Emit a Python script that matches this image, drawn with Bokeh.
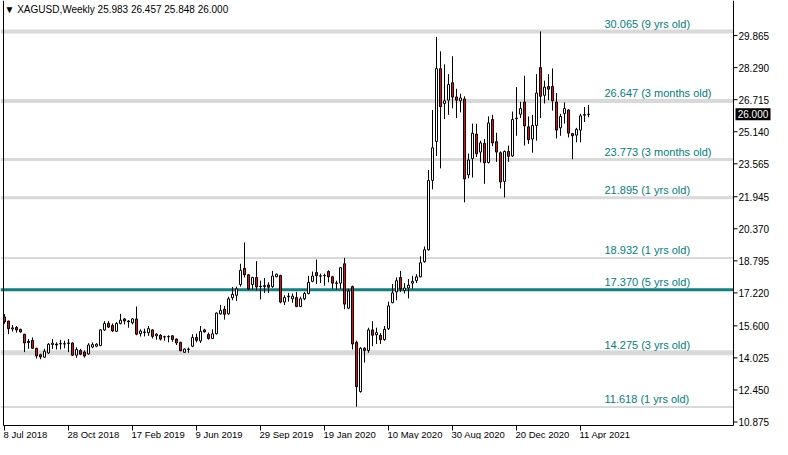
import math
from bokeh.plotting import figure
from bokeh.models import Range1d, Label, ColumnDataSource
from bokeh.core.properties import value
from bokeh.embed import file_html
from bokeh.resources import INLINE

# ---------------- data (XAGUSD weekly, bar index 0 = week of 8 Jul 2018) ----------------
opens = [
    16.04, 15.83, 15.45, 15.52, 15.43, 15.19, 14.84, 14.89, 14.50, 14.18,
    14.06, 14.27, 14.68, 14.70, 14.71, 14.72, 14.74, 14.76, 14.16, 14.39,
    14.31, 14.22, 14.56, 14.60, 14.63, 15.40, 15.72, 15.62, 15.33, 15.72,
    15.94, 15.84, 15.75, 15.94, 15.22, 15.30, 15.26, 15.40, 15.11, 15.14,
    15.05, 15.06, 15.11, 14.95, 14.79, 14.30, 14.44, 14.60, 15.03, 14.86,
    15.40, 15.18, 14.98, 15.21, 16.19, 16.42, 16.19, 16.98, 17.10, 17.63,
    18.43, 18.11, 17.63, 17.98, 17.55, 17.53, 17.61, 17.53, 18.02, 18.08,
    16.77, 17.03, 16.93, 16.99, 16.55, 16.93, 17.19, 17.79, 18.22, 18.04,
    18.06, 18.27, 18.01, 17.69, 17.70, 18.65, 16.47, 17.53, 14.79, 12.37,
    14.50, 14.39, 15.40, 15.16, 15.14, 14.92, 15.46, 16.74, 17.27, 17.98,
    17.34, 17.46, 17.70, 17.82, 18.01, 18.75, 19.34, 22.75, 24.66, 28.24,
    26.53, 26.69, 27.55, 26.85, 26.66, 26.75, 23.02, 23.82, 25.02, 24.14,
    24.57, 23.63, 25.74, 24.65, 24.11, 22.70, 24.17, 23.95, 25.78, 26.00,
    26.60, 25.38, 24.78, 25.45, 28.29, 26.93, 27.36, 27.36, 26.60, 25.33,
    26.03, 26.21, 25.05, 24.97, 25.22, 25.95, 25.983,
]
highs = [
    16.18, 15.86, 15.64, 15.59, 15.46, 15.20, 14.95, 15.03, 14.52, 14.23,
    14.47, 14.75, 14.95, 14.79, 14.91, 14.87, 14.95, 14.79, 14.55, 14.47,
    14.39, 14.75, 14.79, 14.75, 15.43, 15.83, 15.83, 15.72, 15.78, 16.19,
    15.99, 15.88, 15.99, 16.55, 15.43, 15.46, 15.59, 15.43, 15.24, 15.19,
    15.11, 15.14, 15.14, 14.98, 14.82, 14.50, 14.54, 15.19, 15.22, 15.59,
    15.46, 15.27, 15.43, 16.26, 16.63, 16.58, 17.03, 17.51, 17.53, 18.65,
    19.70, 18.14, 18.01, 18.78, 17.82, 17.95, 17.74, 18.30, 18.17, 18.11,
    17.10, 17.22, 17.19, 17.27, 17.03, 17.27, 18.06, 18.27, 18.86, 18.17,
    18.17, 18.33, 18.06, 17.82, 18.49, 18.94, 17.42, 17.58, 14.87, 14.55,
    14.55, 15.51, 15.83, 15.51, 15.24, 15.59, 16.79, 17.66, 17.98, 18.30,
    17.70, 17.90, 18.06, 18.14, 19.02, 19.50, 23.26, 26.21, 29.80, 29.09,
    28.45, 27.97, 28.85, 27.25, 27.01, 26.88, 24.06, 25.54, 25.53, 24.70,
    24.78, 25.89, 25.97, 25.09, 24.17, 24.22, 24.46, 26.13, 27.33, 26.61,
    27.89, 25.89, 25.97, 27.97, 30.07, 27.65, 27.97, 28.25, 27.04, 26.02,
    26.58, 26.24, 25.07, 25.33, 26.02, 26.35, 26.457,
]
lows = [
    15.70, 15.19, 15.32, 15.27, 15.27, 14.31, 14.47, 14.47, 13.99, 13.96,
    14.03, 14.22, 14.47, 14.44, 14.44, 14.50, 14.31, 14.12, 14.03, 14.16,
    14.04, 14.18, 14.50, 14.55, 14.60, 15.35, 15.50, 15.30, 15.30, 15.67,
    15.67, 15.51, 15.67, 15.14, 15.08, 15.08, 15.11, 14.98, 14.92, 14.88,
    14.87, 14.79, 14.82, 14.66, 14.35, 14.28, 14.28, 14.55, 14.79, 14.76,
    15.27, 14.92, 14.95, 15.18, 16.15, 15.91, 16.15, 16.86, 16.83, 17.53,
    17.98, 17.38, 17.38, 17.34, 16.90, 17.22, 17.22, 17.47, 17.98, 16.71,
    16.62, 16.79, 16.74, 16.52, 16.52, 16.86, 17.15, 17.74, 17.66, 17.70,
    17.58, 17.74, 17.42, 17.38, 17.42, 16.42, 16.42, 14.44, 11.63, 12.32,
    13.80, 14.28, 14.60, 14.71, 14.71, 14.87, 15.40, 16.71, 16.86, 17.27,
    17.19, 16.95, 17.42, 17.70, 17.98, 18.70, 19.30, 22.31, 23.95, 23.34,
    25.76, 25.97, 26.29, 25.81, 26.09, 21.67, 22.85, 22.89, 23.90, 23.63,
    22.58, 23.58, 24.43, 23.66, 22.35, 21.91, 23.66, 23.90, 24.94, 25.81,
    24.46, 24.54, 24.11, 24.70, 25.81, 26.53, 26.69, 26.18, 24.81, 24.94,
    25.54, 24.86, 23.79, 24.62, 24.62, 25.62, 25.848,
]
closes = [
    15.80, 15.46, 15.50, 15.40, 15.30, 14.76, 14.78, 14.50, 14.12, 14.07,
    14.35, 14.70, 14.75, 14.66, 14.73, 14.71, 14.76, 14.16, 14.44, 14.21,
    14.12, 14.66, 14.68, 14.70, 15.40, 15.72, 15.54, 15.35, 15.72, 15.88,
    15.84, 15.80, 15.94, 15.19, 15.35, 15.28, 15.46, 15.08, 15.19, 14.95,
    15.07, 15.08, 14.93, 14.76, 14.38, 14.46, 14.46, 15.03, 14.89, 15.33,
    15.30, 14.98, 15.21, 16.23, 16.36, 16.17, 16.93, 17.15, 17.42, 18.33,
    18.11, 17.41, 17.98, 17.51, 17.53, 17.58, 17.50, 18.05, 18.14, 16.77,
    16.99, 17.06, 17.06, 16.55, 16.93, 17.19, 17.74, 18.05, 18.06, 18.06,
    18.08, 18.01, 17.70, 17.71, 18.46, 16.67, 17.31, 14.71, 12.61, 14.50,
    14.39, 15.40, 15.14, 15.27, 14.92, 15.43, 16.58, 17.22, 17.82, 17.42,
    17.46, 17.60, 17.79, 18.01, 18.70, 19.34, 22.74, 24.35, 28.24, 26.37,
    26.66, 27.46, 26.84, 26.69, 26.80, 22.82, 23.75, 25.07, 24.06, 24.59,
    23.61, 25.57, 24.59, 24.14, 22.67, 24.17, 23.93, 25.74, 25.81, 26.28,
    25.42, 24.75, 25.45, 27.04, 26.88, 27.33, 27.23, 26.66, 25.22, 25.89,
    26.28, 25.07, 24.94, 25.26, 25.92, 25.98, 26.000,
]

# time-scale labels (every 16 weekly bars)
date_tick_bars = [0, 16, 32, 48, 64, 80, 96, 112, 128, 144]
date_tick_labels = ["8 Jul 2018", "28 Oct 2018", "17 Feb 2019", "9 Jun 2019", "29 Sep 2019",
                    "19 Jan 2020", "10 May 2020", "30 Aug 2020", "20 Dec 2020", "11 Apr 2021"]

# price-scale ticks
price_ticks = [29.865, 28.290, 26.715, 25.140, 23.565, 21.945, 20.370,
               18.795, 17.220, 15.600, 14.025, 12.450, 10.875]

# support / resistance levels
levels = [30.065, 26.647, 23.773, 21.895, 18.932, 17.370, 14.275, 11.618]
level_ages = ["9 yrs old", "3 months old", "3 months old", "1 yrs old",
              "1 yrs old", "5 yrs old", "3 yrs old", "1 yrs old"]

symbol = "XAGUSD"
timeframe = "Weekly"

# ---------------- styles / layout ----------------
GREY = "#d9d9d9"
TEAL = "#0f7f7f"
TEXT_TEAL = "#008080"
BEAR = "#ff0000"
level_widths = [4, 4, 3, 3, 2, 3, 5, 2]
level_colors = [GREY, GREY, GREY, GREY, GREY, TEAL, GREY, GREY]
FONT = "Liberation Sans"

W, H = 772, 439
PX_BAR = 4.0          # pixels per weekly bar
PX_PRICE = 20.35      # pixels per 1.0 of price
X_START = -4.0 / PX_BAR
X_END = X_START + W / PX_BAR
Y_END = 30.065 + 31 / PX_PRICE
Y_START = Y_END - H / PX_PRICE

AXIS_X = X_START + 733.0 / PX_BAR      # price-scale separator line
AXIS_Y = Y_END - 425.0 / PX_PRICE      # time-scale line
LEFT_X = X_START + 3.0 / PX_BAR        # left border
LABEL_BAR = 150                         # bar where level captions start

n = len(opens)
assert len(highs) == n and len(lows) == n and len(closes) == n
bars = list(range(n))

p = figure(width=W, height=H, output_backend="svg", toolbar_location=None,
           x_range=Range1d(X_START, X_END), y_range=Range1d(Y_START, Y_END),
           x_axis_location=None, y_axis_location=None, min_border=0)
p.grid.visible = False
p.outline_line_color = None
p.background_fill_color = "white"
p.border_fill_color = "white"

# level lines (up to the price scale)
p.segment(x0=[X_START] * len(levels), y0=levels, x1=[AXIS_X] * len(levels), y1=levels,
          line_width=level_widths, line_color=level_colors)

# candles
src = ColumnDataSource(dict(
    x=bars, o=opens, h=highs, l=lows, c=closes,
    top=[max(o, c) for o, c in zip(opens, closes)],
    bot=[min(o, c) for o, c in zip(opens, closes)],
    fill=["white" if c >= o else BEAR for o, c in zip(opens, closes)],
))
p.segment(x0="x", y0="h", x1="x", y1="l", line_color="black", line_width=1, source=src)
p.vbar(x="x", width=2 / PX_BAR, top="top", bottom="bot", fill_color="fill",
       line_color="black", line_width=1, source=src)

# level captions
p.text(x=[LABEL_BAR] * len(levels), y=levels,
       text=[f"{v:.3f}  ({a})" for v, a in zip(levels, level_ages)],
       y_offset=-2, text_color=TEXT_TEAL, text_font=value(FONT), text_font_size="11px",
       text_baseline="bottom", text_align="left")

# frame: left border, price-scale line, time-scale line
p.segment(x0=[LEFT_X, AXIS_X, LEFT_X], y0=[AXIS_Y, AXIS_Y, AXIS_Y],
          x1=[LEFT_X, AXIS_X, AXIS_X], y1=[Y_END, Y_END, AXIS_Y],
          line_color="black", line_width=1)

# price scale ticks + labels
p.ray(x=[AXIS_X] * len(price_ticks), y=price_ticks, length=4, length_units="screen",
      angle=0, line_color="black", line_width=1)
p.text(x=[AXIS_X] * len(price_ticks), y=price_ticks, text=[f"{t:.3f}" for t in price_ticks],
       x_offset=5, text_baseline="middle", text_align="left",
       text_font=value(FONT), text_font_size="10px", text_color="black")

# current price marker
px_mark = AXIS_X + 19.5 / PX_BAR
p.rect(x=[px_mark], y=[closes[-1]], width=35, height=12, width_units="screen",
       height_units="screen", fill_color="black", line_color=None)
p.text(x=[px_mark], y=[closes[-1]], text=[f"{closes[-1]:.3f}"], text_align="center",
       text_baseline="middle", text_font=value(FONT), text_font_size="10px", text_color="white")

# time scale ticks + labels
p.ray(x=date_tick_bars, y=[AXIS_Y] * len(date_tick_bars), length=5, length_units="screen",
      angle=-math.pi / 2, line_color="black", line_width=1)
p.text(x=date_tick_bars, y=[AXIS_Y] * len(date_tick_bars), text=date_tick_labels,
       x_offset=-1.0, y_offset=3, text_baseline="top", text_align="left",
       text_font=value(FONT), text_font_size="9.5px", text_color="black")

# header line (last bar OHLC)
title = f"\u25bc {symbol},{timeframe}  {opens[-1]:.3f} {highs[-1]:.3f} {lows[-1]:.3f} {closes[-1]:.3f}"
p.add_layout(Label(x=4, y=H - 3, x_units="screen", y_units="screen",
                   text=title, text_align="left", text_baseline="top",
                   text_font=FONT, text_font_size="10px", text_color="black"))

open("out.html", "w").write(file_html(p, INLINE))
